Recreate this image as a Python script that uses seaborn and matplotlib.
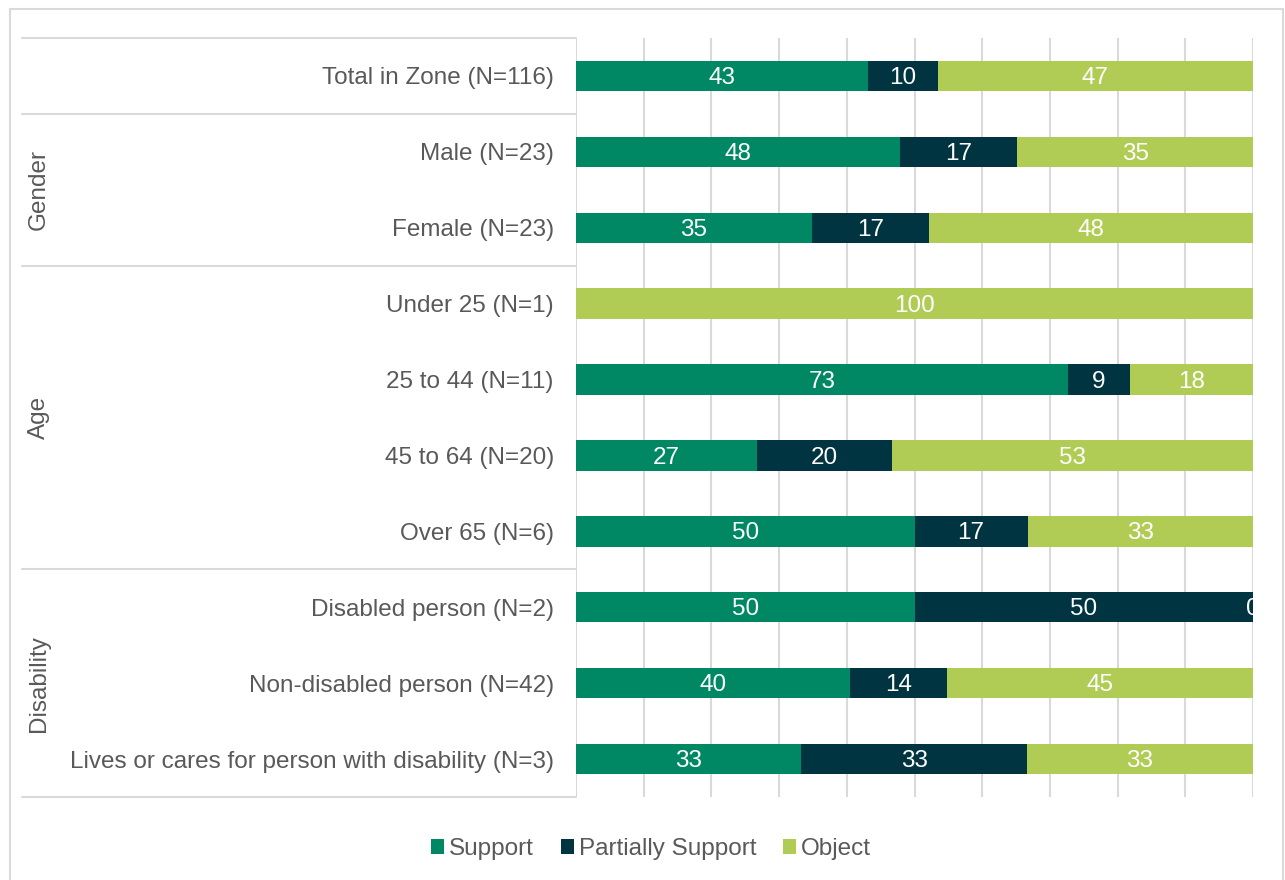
import numpy as np
import pandas as pd
import matplotlib
matplotlib.use("Agg")
import matplotlib.pyplot as plt
import matplotlib.transforms as mtransforms
from matplotlib.patches import Patch, Rectangle
from matplotlib.lines import Line2D
import seaborn as sns

# ---- data ----
categories = [
    "Total in Zone (N=116)",
    "Male (N=23)",
    "Female (N=23)",
    "Under 25 (N=1)",
    "25 to 44 (N=11)",
    "45 to 64 (N=20)",
    "Over 65 (N=6)",
    "Disabled person (N=2)",
    "Non-disabled person (N=42)",
    "Lives or cares for person with disability (N=3)",
]
support = [43.1, 47.8, 34.8, np.nan, 72.7, 26.7, 50.0, 50.0, 40.5, 33.3]
partially = [10.3, 17.4, 17.4, np.nan, 9.1, 20.0, 16.7, 50.0, 14.3, 33.3]
objection = [46.6, 34.8, 47.8, 100.0, 18.2, 53.3, 33.3, 0.0, 45.2, 33.4]
series_names = ["Support", "Partially Support", "Object"]
series_values = [support, partially, objection]
colors = ["#008864", "#003440", "#B0CC55"]

groups = ["Gender", "Age", "Disability"]
group_rows = [(1, 2), (3, 6), (7, 9)]   # first and last row index of each group

# ---- style ----
sns.set_style("white")
plt.rcParams["font.family"] = ["Liberation Sans", "DejaVu Sans"]
text_color = "#595959"
line_color = "#D9D9D9"
fs = 17.5

fig = plt.figure(figsize=(12.85, 8.8), dpi=100)
ax = fig.add_axes([576 / 1285, 1 - 797 / 880, (1253 - 576) / 1285, (797 - 38) / 880])

left = np.zeros(len(categories))
for name, vals, col in zip(series_names, series_values, colors):
    vals = np.array(vals, dtype=float)
    w = np.nan_to_num(vals)
    sns.barplot(x=w, y=categories, order=categories, orient="h", color=col,
                saturation=1, width=0.4, linewidth=0, left=left, ax=ax)
    cont = ax.containers[-1]
    labels = ["" if np.isnan(v) else f"{v:.0f}" for v in vals]
    texts = ax.bar_label(cont, labels=labels, label_type="center",
                         color="white", fontsize=fs)
    for t in texts:
        t.set_clip_on(True)
        t.xyann = (0, -1.5)
    left = left + w

ax.set_xlim(0, 100)
ax.set_ylim(len(categories) - 0.5, -0.5)
ax.set_xticks(np.arange(0, 101, 10))
ax.set_xticklabels([])
ax.tick_params(axis="x", length=0)
ax.tick_params(axis="y", length=0, pad=16, labelsize=fs, labelcolor=text_color)
ax.set_xlabel("")
ax.set_ylabel("")
ax.grid(axis="x", color=line_color, linewidth=1.5)
ax.grid(axis="y", visible=False)
ax.set_axisbelow(True)
for s in ax.spines.values():
    s.set_visible(False)

# group separators and labels
trans = mtransforms.blended_transform_factory(fig.transFigure, ax.transData)
x_start = 22 / 1285
x_end = 576 / 1285
for yb in [-0.5, 0.5, 2.5, 6.5, 9.5]:
    fig.add_artist(Line2D([x_start, x_end], [yb, yb], transform=trans,
                          color=line_color, linewidth=1.5))
for g, (a, b) in zip(groups, group_rows):
    fig.text(39 / 1285, (a + b) / 2, g, transform=trans, rotation=90,
             ha="center", va="center", fontsize=fs, color=text_color)

# outer border
fig.add_artist(Rectangle((10 / 1285, -0.02), (1283 - 10) / 1285, 0.02 + 1 - 9 / 880,
                         transform=fig.transFigure, fill=False,
                         edgecolor=line_color, linewidth=1.5))

# legend
handles = [Patch(facecolor=c, edgecolor="none", label=n) for n, c in zip(series_names, colors)]
leg = fig.legend(handles=handles, loc="center", bbox_to_anchor=(651 / 1285, 1 - 849 / 880),
                 ncol=3, frameon=False, fontsize=fs, handlelength=0.55, handleheight=0.55,
                 handletextpad=0.2, columnspacing=1.1)
for t in leg.get_texts():
    t.set_color(text_color)

fig.savefig("out.png", dpi=100)
